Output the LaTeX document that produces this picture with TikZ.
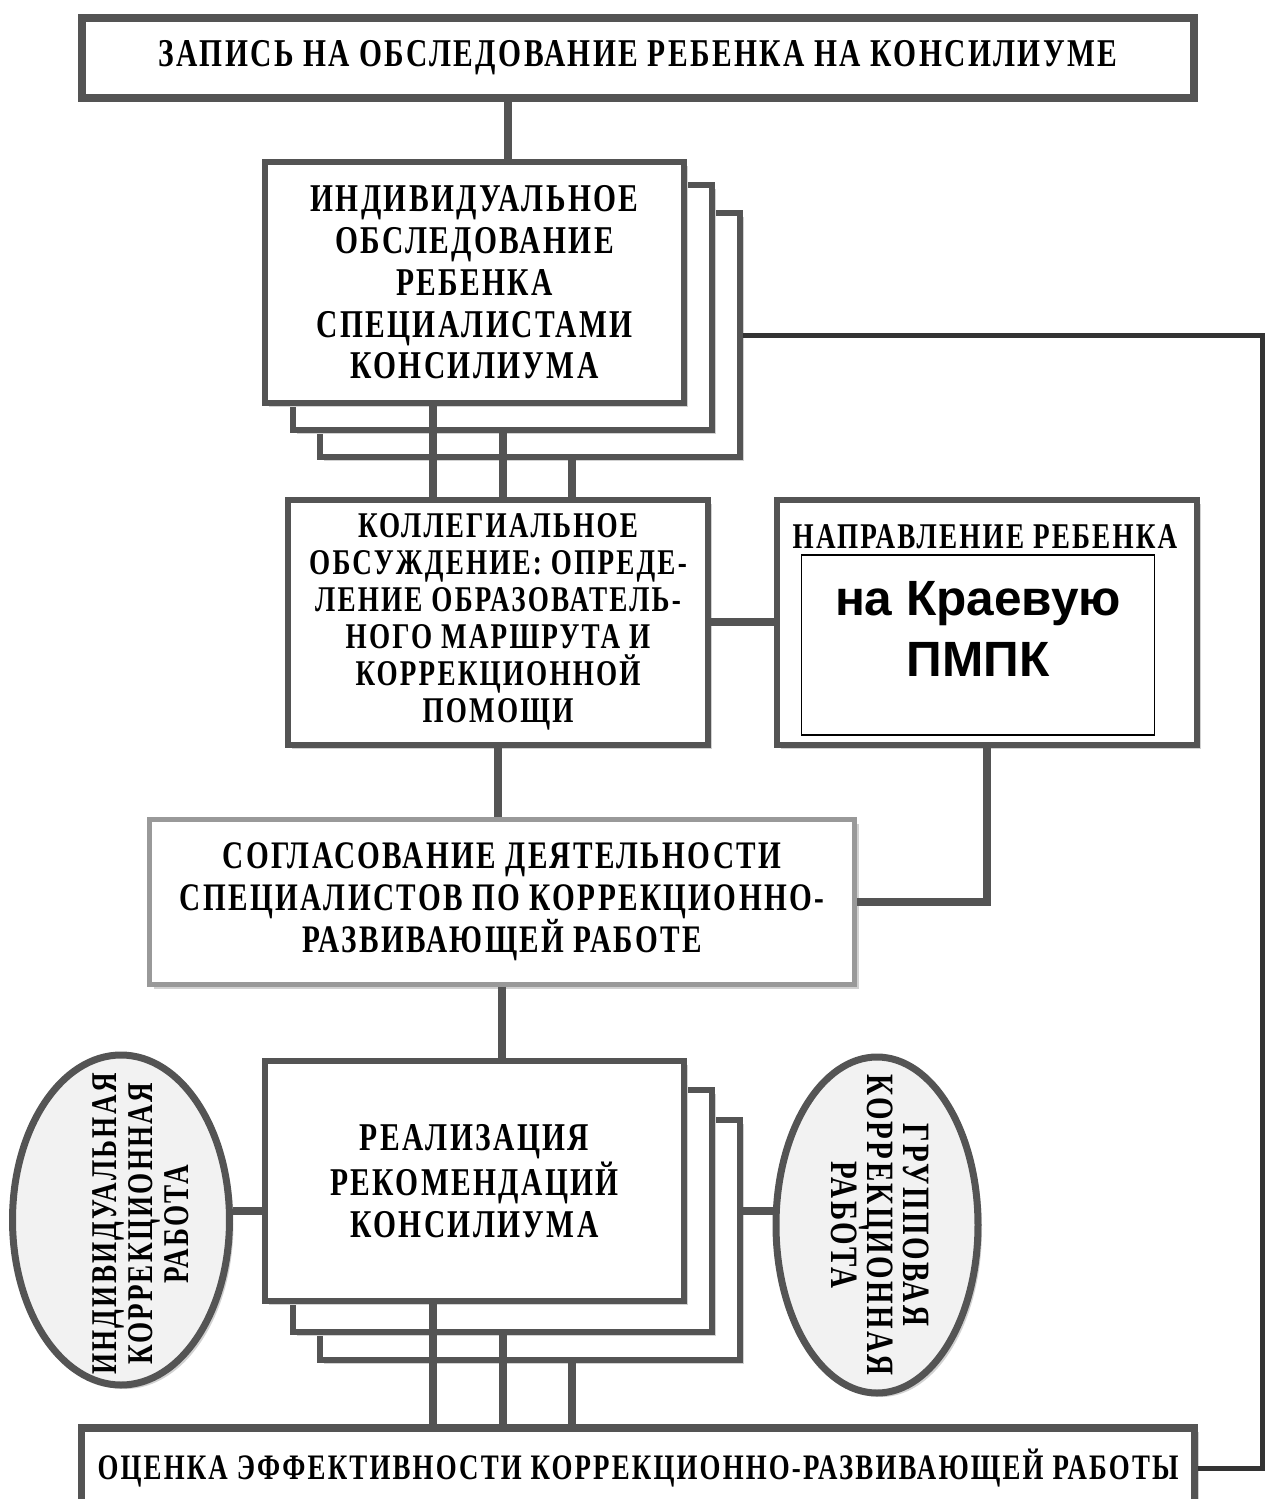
\documentclass[tikz,border=0pt]{standalone}
\usepackage{fontspec}
\newfontfamily\slabfont{Liberation Serif}[FakeStretch=0.75, LetterSpace=6]
\newfontfamily\plainsans{Liberation Sans}
\usetikzlibrary{shapes.geometric,shadows}

\definecolor{dgray}{gray}{0.33}
\definecolor{mgray}{gray}{0.6}
\definecolor{lgray}{gray}{0.82}
\definecolor{egray}{gray}{0.95}

\tikzset{
  blk/.style={draw=dgray, line width=0.6mm, fill=white, inner sep=0pt,
    drop shadow={shadow xshift=0.4mm, shadow yshift=-0.4mm, fill=lgray, opacity=1}},
  oval/.style={ellipse, draw=dgray, line width=0.7mm, fill=egray, inner sep=0pt,
    drop shadow={shadow xshift=0.4mm, shadow yshift=-0.4mm, fill=lgray, opacity=1}},
  txt/.style={font=\slabfont\bfseries\fontsize{11.2}{11.9}\selectfont, align=center},
  small/.style={font=\slabfont\bfseries\fontsize{10.3}{10.5}\selectfont},
  link/.style={dgray, line width=0.75mm},
}

\begin{document}
\begin{tikzpicture}[x=0.1mm, y=-0.1mm]
  \useasboundingbox (0,0) rectangle (1268,1499);
  % x positions of the vertical connectors
  \coordinate (cx) at (508,0);
  \coordinate (c1) at (433,0);
  \coordinate (c2) at (503,0);
  \coordinate (c3) at (572,0);
  \coordinate (rc) at (1262,0);
  \coordinate (cy) at (0,1211);

  \node[blk, txt, line width=0.75mm, minimum width=111.2mm, minimum height=8mm] (zap) at (638,58)
    {ЗАПИСЬ НА ОБСЛЕДОВАНИЕ РЕБЕНКА НА КОНСИЛИУМЕ};

  % stack of sheets: individual examination
  \node[blk, minimum width=42mm, minimum height=24.4mm] (ind3) at (530,335) {};
  \node[blk, minimum width=41.9mm, minimum height=24.5mm] (ind2) at (502.5,307.5) {};
  \node[blk, txt, minimum width=41.9mm, minimum height=24.1mm] (ind1) at (474.5,282.5)
    {ИНДИВИДУАЛЬНОЕ\\ОБСЛЕДОВАНИЕ\\РЕБЕНКА\\СПЕЦИАЛИСТАМИ\\КОНСИЛИУМА};

  \node[blk, txt, small, minimum width=42mm, minimum height=24.5mm] (kol) at (498,622)
    {КОЛЛЕГИАЛЬНОЕ\\ОБСУЖДЕНИЕ: ОПРЕДЕ-\\ЛЕНИЕ ОБРАЗОВАТЕЛЬ-\\НОГО МАРШРУТА И\\КОРРЕКЦИОННОЙ\\ПОМОЩИ};

  \node[blk, minimum width=42mm, minimum height=24.5mm] (nap) at (987,622) {};
  \node[txt, small] (napt) at (985,537) {НАПРАВЛЕНИЕ РЕБЕНКА};
  \node[draw=black, line width=0.15mm, minimum width=35.3mm, minimum height=18mm] (kra) at (978,645) {};
  \node[font=\plainsans\bfseries\fontsize{14.1}{17.6}\selectfont, align=center] (krat) at (978,629)
    {на Краевую\\ПМПК};

  \node[blk, txt, draw=mgray, line width=0.45mm, font=\slabfont\bfseries\fontsize{11.1}{11.9}\selectfont,
    minimum width=70.5mm, minimum height=16.5mm] (sog) at (502,902)
    {СОГЛАСОВАНИЕ ДЕЯТЕЛЬНОСТИ\\СПЕЦИАЛИСТОВ ПО КОРРЕКЦИОННО-\\РАЗВИВАЮЩЕЙ РАБОТЕ};

  % stack of sheets: recommendations
  \node[blk, minimum width=42mm, minimum height=24mm] (rea3) at (530,1240) {};
  \node[blk, minimum width=41.9mm, minimum height=24.2mm] (rea2) at (502.5,1211) {};
  \node[blk, txt, minimum width=41.9mm, minimum height=24mm] (rea1) at (474.5,1181)
    {РЕАЛИЗАЦИЯ\\РЕКОМЕНДАЦИЙ\\КОНСИЛИУМА};

  \node[oval, minimum width=21.7mm, minimum height=33mm] (indk) at (121,1220) {};
  \node[txt, rotate=90, font=\slabfont\bfseries\fontsize{10.3}{10.3}\selectfont] (indkt) at (141,1224)
    {ИНДИВИДУАЛЬНАЯ\\КОРРЕКЦИОННАЯ\\РАБОТА};
  \node[oval, minimum width=20.2mm, minimum height=33.6mm] (grp) at (877,1225) {};
  \node[txt, rotate=-90, font=\slabfont\bfseries\fontsize{11}{10.3}\selectfont] (grpt) at (880,1225)
    {ГРУППОВАЯ\\КОРРЕКЦИОННАЯ\\РАБОТА};

  \node[blk, txt, line width=0.75mm, font=\slabfont\bfseries\fontsize{10.2}{10.5}\selectfont,
    minimum width=111.3mm, minimum height=8mm] (ots) at (638,1468)
    {ОЦЕНКА ЭФФЕКТИВНОСТИ КОРРЕКЦИОННО-РАЗВИВАЮЩЕЙ РАБОТЫ};

  % connectors
  \draw[link] (zap.south -| cx) -- (ind1.north -| cx);
  \draw[link] (ind1.south -| c1) -- (kol.north -| c1);
  \draw[link] (ind2.south -| c2) -- (kol.north -| c2);
  \draw[link] (ind3.south -| c3) -- (kol.north -| c3);
  \draw[link] (kol.east) -- (nap.west);
  \draw[link] (kol.south) -- (kol.south |- sog.north);
  \draw[link] (nap.south) |- (sog.east);
  \draw[link] (sog.south) -- (sog.south |- rea1.north);
  \draw[link] (indk.east |- cy) -- (rea1.west |- cy);
  \draw[link] (rea3.east |- cy) -- (grp.west |- cy);
  \draw[link] (rea1.south -| c1) -- (ots.north -| c1);
  \draw[link] (rea2.south -| c2) -- (ots.north -| c2);
  \draw[link] (rea3.south -| c3) -- (ots.north -| c3);
  \draw[link, black!80, line width=0.5mm] (ind3.east) -- (ind3.east -| rc) |- (ots.east);
\end{tikzpicture}
\end{document}
